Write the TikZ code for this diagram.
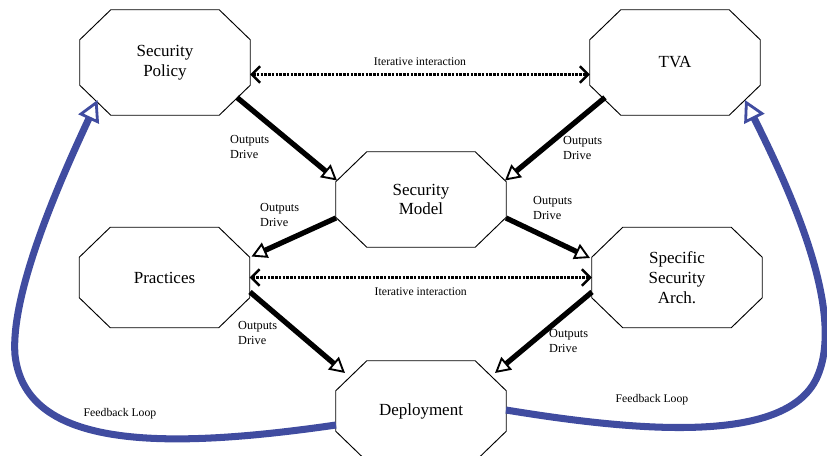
\documentclass[tikz,border=0pt]{standalone}
\usepackage{fontspec}
\setmainfont{Liberation Serif}
\usetikzlibrary{calc,arrows.meta}
\definecolor{loopblue}{RGB}{64,76,160}
\tikzset{
  octbox/.style={rectangle,minimum width=5.1cm,minimum height=3cm,inner sep=0pt,align=center,
    font=\fontsize{14.5}{17}\selectfont},
  octframe/.style={draw,line width=0.8pt,line join=miter},
  outarrow/.style={line width=4.5pt,-{Triangle[open,fill=white,length=13pt,width=14pt,line width=1.6pt]}},
  iterarrow/.style={line width=2.2pt,densely dotted,
    {Straight Barb[length=7pt,width=14pt,line width=2pt]}-{Straight Barb[length=7pt,width=14pt,line width=2pt]}},
  loopline/.style={draw=loopblue,line width=6pt,-{Triangle[open,fill=white,length=18pt,width=19pt,line width=2.4pt]}},
  smalltext/.style={font=\fontsize{10.5}{12.5}\selectfont,align=left,inner sep=0pt}
}
\begin{document}
\begin{tikzpicture}[x=0.03cm,y=-0.03cm]
    \useasboundingbox (0,0) rectangle (827,456);
    \clip (0,0) rectangle (827,456);
    % boxes
    \node (pol)   at (165,62.5) [octbox,minimum height=3.15cm] {Security\\Policy};
    \node (tva)   at (675,62.5) [octbox,minimum height=3.15cm] {TVA};
    \node (model) at (421,199.5) [octbox,minimum height=2.85cm] {Security\\Model};
    \node (prac)  at (164.5,277.5) [octbox] {Practices};
    \node (spec)  at (677,277.5) [octbox] {Specific\\Security\\Arch.};
    \node (dep)   at (421,411) [octbox] {Deployment};
    \foreach \n in {pol,tva,model,prac,spec,dep}
      \draw [octframe] ([xshift=0.93cm]\n.north west) -- ([xshift=-0.93cm]\n.north east)
        -- ([yshift=-0.9cm]\n.north east) -- ([yshift=0.9cm]\n.south east)
        -- ([xshift=-0.93cm]\n.south east) -- ([xshift=0.93cm]\n.south west)
        -- ([yshift=0.9cm]\n.south west) -- ([yshift=-0.9cm]\n.north west) -- cycle;
    % iterative interaction
    \draw [iterarrow] (pol.east) ++(0,12) coordinate (it1) -- (it1 -| tva.west)
    node [midway,above=3pt,font=\fontsize{10}{12}\selectfont] (iter1) {Iterative interaction};
    \draw [iterarrow] (prac.east) -- (spec.west)
    node [midway,below=4pt,font=\fontsize{10}{12}\selectfont] (iter2) {Iterative interaction};
    % outputs drive
    \draw [outarrow] ($(pol.center)+(72,35)$) -- ($(model.center)+(-84,-19)$);
    \draw [outarrow] ($(tva.center)+(-70,35)$) -- ($(model.center)+(84,-19)$);
    \draw [outarrow] ($(model.center)+(-85,18.5)$) -- ($(prac.center)+(87,-21)$);
    \draw [outarrow] ($(model.center)+(85,18.5)$) -- ($(spec.center)+(-87,-19.5)$);
    \draw [outarrow] ($(prac.center)+(85.5,14.5)$) -- ($(dep.center)+(-76,-38)$);
    \draw [outarrow] ($(spec.center)+(-85,14.5)$) -- ($(dep.center)+(74,-38)$);
    \node (od1) at (230,147) [smalltext,anchor=west] {Outputs\\Drive};
    \node (od2) at (563,148) [smalltext,anchor=west] {Outputs\\Drive};
    \node (od3) at (260,215) [smalltext,anchor=west] {Outputs\\Drive};
    \node (od4) at (533,208) [smalltext,anchor=west] {Outputs\\Drive};
    \node (od5) at (238,333) [smalltext,anchor=west] {Outputs\\Drive};
    \node (od6) at (549,341) [smalltext,anchor=west] {Outputs\\Drive};
    % feedback loops
    \draw [loopline] ($(dep.center)+(-85,14)$) .. controls (150,452) and (25,445) .. (15,355)
      .. controls (10,290) and (65,170) .. ($(pol.center)+(-67.5,37.5)$);
    \draw [loopline] ($(dep.center)+(85,-1)$) .. controls (640,432) and (790,445) .. (818,375)
      .. controls (845,310) and (790,190) .. ($(tva.center)+(70,37.5)$);
    \node (fb1) at (120,414) [font=\fontsize{10}{12}\selectfont] {Feedback Loop};
    \node (fb2) at (652,400) [font=\fontsize{10}{12}\selectfont] {Feedback Loop};
\end{tikzpicture}
\end{document}
